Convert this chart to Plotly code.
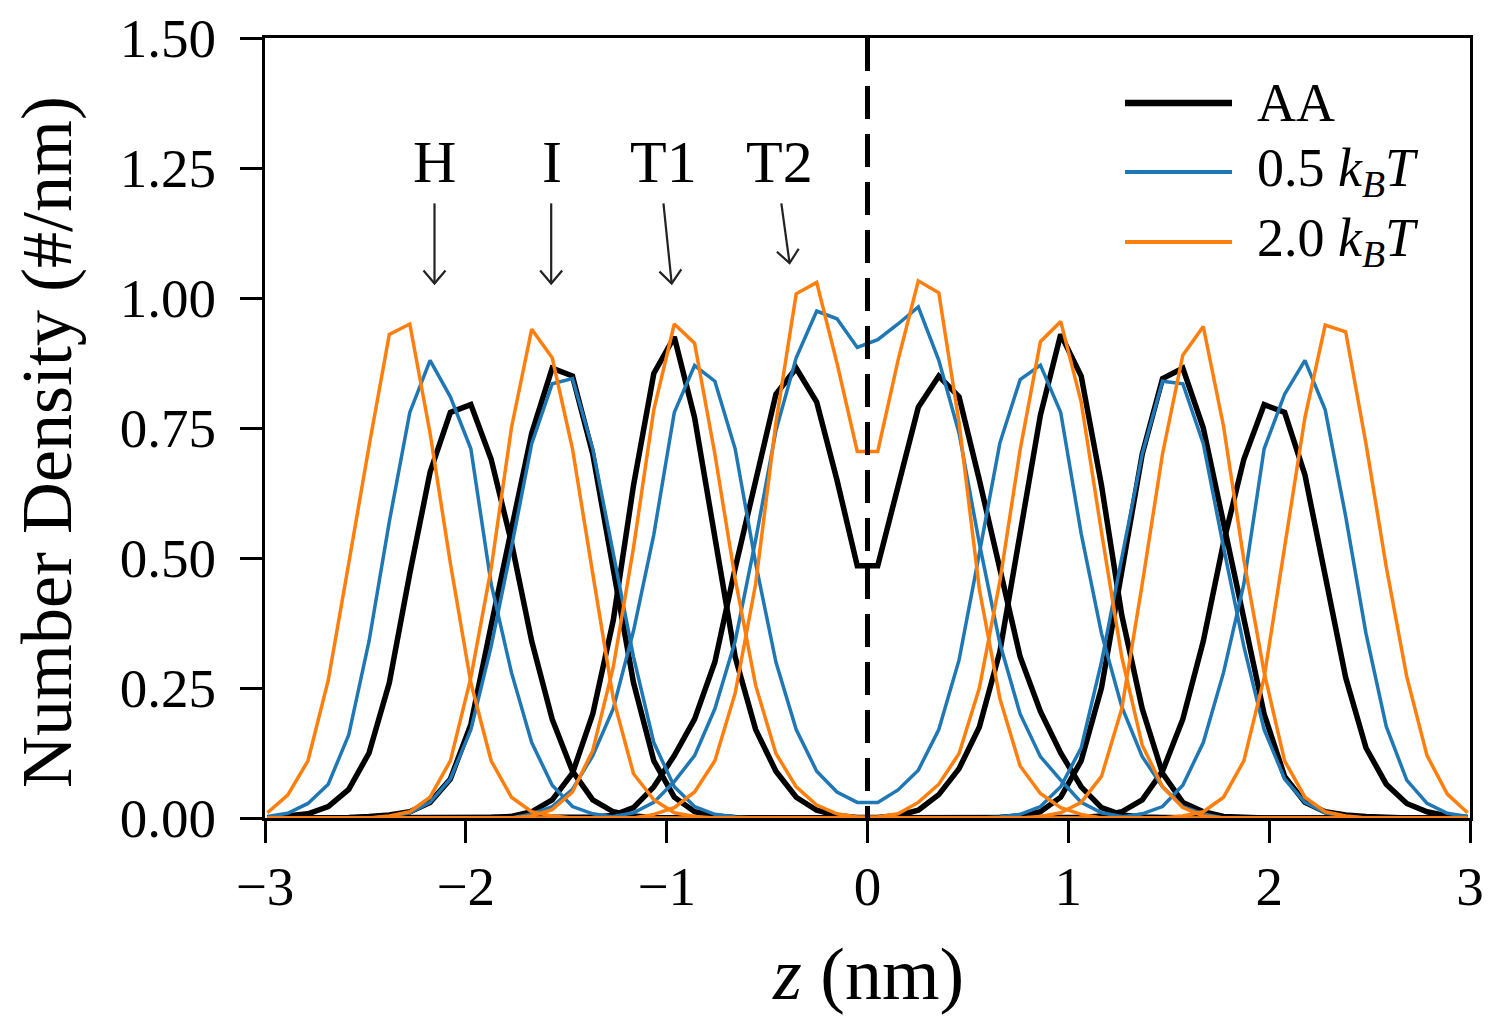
import math
import plotly.graph_objects as go

# ---------------- data ----------------
Z = [-2.988, -2.887, -2.786, -2.685, -2.583, -2.482, -2.381, -2.279, -2.178, -2.077,
     -1.975, -1.874, -1.773, -1.672, -1.570, -1.469, -1.368, -1.266, -1.165, -1.064,
     -0.962, -0.861, -0.760, -0.659, -0.557, -0.456, -0.355, -0.253, -0.152, -0.051,
     0.051, 0.152, 0.253, 0.355, 0.456, 0.557, 0.659, 0.760, 0.861, 0.962,
     1.064, 1.165, 1.266, 1.368, 1.469, 1.570, 1.672, 1.773, 1.874, 1.975,
     2.077, 2.178, 2.279, 2.381, 2.482, 2.583, 2.685, 2.786, 2.887, 2.988]

# AA
AA_H = [0.0, 0.003, 0.008, 0.022, 0.055, 0.125, 0.26, 0.47, 0.665, 0.78,
        0.795, 0.69, 0.53, 0.34, 0.19, 0.09, 0.035, 0.012, 0.004, 0.001,
        0, 0, 0, 0, 0, 0, 0, 0, 0, 0,
        0, 0, 0, 0, 0, 0, 0, 0, 0, 0,
        0.001, 0.004, 0.012, 0.035, 0.09, 0.19, 0.34, 0.53, 0.69, 0.795,
        0.78, 0.66, 0.465, 0.27, 0.135, 0.065, 0.028, 0.012, 0.004, 0.001]
AA_I = [0, 0, 0, 0, 0.001, 0.003, 0.006, 0.012, 0.03, 0.075,
        0.18, 0.37, 0.56, 0.74, 0.865, 0.85, 0.70, 0.48, 0.26, 0.11,
        0.04, 0.012, 0.004, 0.001, 0, 0, 0, 0, 0, 0,
        0, 0, 0, 0, 0, 0, 0.001, 0.004, 0.012, 0.04,
        0.11, 0.25, 0.47, 0.70, 0.845, 0.865, 0.75, 0.57, 0.38, 0.20,
        0.08, 0.03, 0.012, 0.006, 0.003, 0.001, 0, 0, 0, 0]
AA_T1 = [0, 0, 0, 0, 0, 0, 0, 0, 0, 0,
         0, 0.001, 0.003, 0.012, 0.035, 0.086, 0.20, 0.38, 0.64, 0.855,
         0.925, 0.77, 0.54, 0.31, 0.17, 0.09, 0.04, 0.015, 0.005, 0.001,
         0.001, 0.005, 0.015, 0.045, 0.095, 0.175, 0.32, 0.545, 0.775, 0.93,
         0.85, 0.64, 0.39, 0.21, 0.086, 0.03, 0.012, 0.003, 0.001, 0,
         0, 0, 0, 0, 0, 0, 0, 0, 0, 0]
AA_T2 = [0, 0, 0, 0, 0, 0, 0, 0, 0, 0,
         0, 0, 0, 0, 0, 0.001, 0.002, 0.005, 0.02, 0.06,
         0.12, 0.19, 0.30, 0.48, 0.645, 0.815, 0.865, 0.80, 0.65, 0.485,
         0.485, 0.64, 0.79, 0.85, 0.81, 0.65, 0.48, 0.31, 0.205, 0.125,
         0.06, 0.02, 0.006, 0.002, 0.001, 0, 0, 0, 0, 0,
         0, 0, 0, 0, 0, 0, 0, 0, 0, 0]

# 0.5 kBT
B05_H = [0.003, 0.009, 0.028, 0.065, 0.16, 0.34, 0.57, 0.78, 0.88, 0.81,
         0.71, 0.45, 0.28, 0.145, 0.063, 0.022, 0.008, 0.002, 0, 0,
         0, 0, 0, 0, 0, 0, 0, 0, 0, 0,
         0, 0, 0, 0, 0, 0, 0, 0, 0, 0,
         0, 0, 0.002, 0.008, 0.022, 0.063, 0.145, 0.28, 0.45, 0.71,
         0.815, 0.88, 0.785, 0.58, 0.355, 0.176, 0.073, 0.028, 0.009, 0.003]
B05_I = [0, 0, 0, 0, 0, 0, 0.003, 0.01, 0.03, 0.075,
         0.17, 0.33, 0.52, 0.72, 0.835, 0.845, 0.71, 0.51, 0.31, 0.145,
         0.06, 0.022, 0.007, 0.002, 0, 0, 0, 0, 0, 0,
         0, 0, 0, 0, 0, 0, 0.002, 0.007, 0.022, 0.06,
         0.135, 0.30, 0.50, 0.70, 0.84, 0.835, 0.72, 0.52, 0.33, 0.17,
         0.075, 0.03, 0.01, 0.003, 0, 0, 0, 0, 0, 0]
B05_T1 = [0, 0, 0, 0, 0, 0, 0, 0, 0, 0,
          0, 0, 0, 0.008, 0.022, 0.055, 0.12, 0.21, 0.36, 0.545,
          0.78, 0.87, 0.84, 0.71, 0.49, 0.30, 0.17, 0.09, 0.05, 0.03,
          0.03, 0.054, 0.092, 0.17, 0.304, 0.509, 0.721, 0.843, 0.871, 0.78,
          0.547, 0.355, 0.214, 0.118, 0.06, 0.022, 0.008, 0, 0, 0,
          0, 0, 0, 0, 0, 0, 0, 0, 0, 0]
B05_T2 = [0, 0, 0, 0, 0, 0, 0, 0, 0, 0,
          0, 0, 0, 0, 0, 0, 0, 0.003, 0.01, 0.03,
          0.07, 0.12, 0.21, 0.34, 0.535, 0.745, 0.885, 0.975, 0.96, 0.905,
          0.92, 0.95, 0.983, 0.88, 0.74, 0.528, 0.336, 0.20, 0.118, 0.073,
          0.03, 0.01, 0.003, 0, 0, 0, 0, 0, 0, 0,
          0, 0, 0, 0, 0, 0, 0, 0, 0, 0]

# 2.0 kBT
B20_H = [0.01, 0.044, 0.11, 0.265, 0.49, 0.715, 0.93, 0.95, 0.74, 0.49,
         0.26, 0.11, 0.04, 0.012, 0.004, 0, 0, 0, 0, 0,
         0, 0, 0, 0, 0, 0, 0, 0, 0, 0,
         0, 0, 0, 0, 0, 0, 0, 0, 0, 0,
         0, 0, 0, 0, 0, 0.004, 0.012, 0.04, 0.11, 0.27,
         0.52, 0.77, 0.948, 0.935, 0.72, 0.483, 0.272, 0.12, 0.046, 0.01]
B20_I = [0, 0, 0, 0, 0, 0, 0.004, 0.012, 0.04, 0.11,
         0.27, 0.48, 0.75, 0.94, 0.885, 0.71, 0.47, 0.23, 0.085, 0.035,
         0.01, 0.003, 0, 0, 0, 0, 0, 0, 0, 0,
         0, 0, 0, 0, 0, 0, 0, 0, 0.003, 0.01,
         0.03, 0.08, 0.21, 0.45, 0.70, 0.89, 0.945, 0.753, 0.496, 0.28,
         0.11, 0.04, 0.012, 0.004, 0, 0, 0, 0, 0, 0]
B20_T1 = [0, 0, 0, 0, 0, 0, 0, 0, 0, 0,
          0, 0, 0, 0.004, 0.016, 0.05, 0.13, 0.29, 0.52, 0.785,
          0.95, 0.913, 0.70, 0.46, 0.255, 0.124, 0.06, 0.025, 0.008, 0.002,
          0.002, 0.008, 0.03, 0.065, 0.124, 0.25, 0.455, 0.708, 0.916, 0.955,
          0.80, 0.55, 0.31, 0.14, 0.06, 0.02, 0.004, 0, 0, 0,
          0, 0, 0, 0, 0, 0, 0, 0, 0, 0]
B20_T2 = [0, 0, 0, 0, 0, 0, 0, 0, 0, 0,
          0, 0, 0, 0, 0, 0, 0, 0, 0, 0.007,
          0.02, 0.05, 0.11, 0.24, 0.45, 0.76, 1.008, 1.03, 0.875, 0.705,
          0.705, 0.88, 1.033, 1.01, 0.76, 0.44, 0.23, 0.10, 0.047, 0.02,
          0.007, 0, 0, 0, 0, 0, 0, 0, 0, 0,
          0, 0, 0, 0, 0, 0, 0, 0, 0, 0]

SERIES_NAMES = ["AA", "0.5 <i>k</i><sub><i>B</i></sub><i>T</i>", "2.0 <i>k</i><sub><i>B</i></sub><i>T</i>"]
BEAD_LABELS = ["H", "I", "T1", "T2"]

# ---------------- styling / layout ----------------
FONT = "Liberation Serif"
COLORS = ["#000000", "#1f77b4", "#ff7f0e"]
WIDTHS = [5.5, 3.5, 3.5]
GROUPS = [[AA_H, AA_I, AA_T1, AA_T2],
          [B05_H, B05_I, B05_T1, B05_T2],
          [B20_H, B20_I, B20_T1, B20_T2]]

OFF = 8                     # page body margin of the html
W, H = 1500 - OFF, 1021 - OFF
ML, MT = 265 - OFF, 38 - OFF
PW, PH = 1205, 780
MR, MB = W - ML - PW, H - MT - PH
XR, YR = (-3, 3), (0, 1.5)
XS = PW / (XR[1] - XR[0])
YS = PH / (YR[1] - YR[0])
PAGE_L, PAGE_B = 265, 818   # plot-area left / bottom in page pixels


def paper_x(px):
    return (px - PAGE_L) / PW


def paper_y(py):
    return (PAGE_B - py) / PH


fig = go.Figure()
for color, width, groups in zip(COLORS, WIDTHS, GROUPS):
    for g in groups:
        fig.add_trace(go.Scatter(x=Z, y=g, mode="lines",
                                 line=dict(color=color, width=width),
                                 showlegend=False, hoverinfo="skip"))

# dashed bilayer center line
fig.add_shape(type="line", xref="x", yref="y", x0=0, x1=0, y0=YR[1], y1=YR[0],
              line=dict(color="black", width=5, dash="33px,15px"), layer="above")

# bead labels with arrows (tail, tip in axis units)
ARROWS = [(-2.156, 1.182, -2.156, 1.028),
          (-1.575, 1.182, -1.575, 1.028),
          (-1.016, 1.182, -0.975, 1.028),
          (-0.429, 1.182, -0.388, 1.067)]
LABEL_X = [-2.156, -1.572, -1.016, -0.438]
LABEL_Y = 1.262


def add_arrow(x0, y0, x1, y1):
    col = "#222222"
    fig.add_shape(type="line", xref="x", yref="y", x0=x0, y0=y0, x1=x1, y1=y1,
                  line=dict(color=col, width=2.2))
    dx, dy = (x1 - x0) * XS, (y1 - y0) * YS
    n = math.hypot(dx, dy)
    ux, uy = dx / n, dy / n
    px, py = -uy, ux
    L, Wd = 13, 11
    lx = x1 + (-L * ux + Wd * px) / XS
    ly = y1 + (-L * uy + Wd * py) / YS
    rx = x1 + (-L * ux - Wd * px) / XS
    ry = y1 + (-L * uy - Wd * py) / YS
    fig.add_shape(type="path", xref="x", yref="y",
                  path=f"M {lx},{ly} L {x1},{y1} L {rx},{ry}",
                  line=dict(color=col, width=2.2))


for (x0, y0, x1, y1), lab, lx in zip(ARROWS, BEAD_LABELS, LABEL_X):
    add_arrow(x0, y0, x1, y1)
    fig.add_annotation(x=lx, y=LABEL_Y, xref="x", yref="y", text=lab,
                       showarrow=False, xanchor="center", yanchor="middle",
                       font=dict(family=FONT, size=60, color="black"))

# manual legend
LEG_X0, LEG_X1, LEG_TX = 1125, 1232, 1255
LEG_Y = [103, 172, 242]
LEG_W = [6.5, 4, 4]
for name, color, width, yy in zip(SERIES_NAMES, COLORS, LEG_W, LEG_Y):
    fig.add_shape(type="line", xref="paper", yref="paper",
                  x0=paper_x(LEG_X0), x1=paper_x(LEG_X1), y0=paper_y(yy), y1=paper_y(yy),
                  line=dict(color=color, width=width))
    fig.add_annotation(x=paper_x(LEG_TX), y=paper_y(yy), xref="paper", yref="paper",
                       text=name, showarrow=False, xanchor="left", yanchor="middle",
                       font=dict(family=FONT, size=54, color="black"))

# axis titles
fig.add_annotation(x=paper_x(47), y=paper_y(442), xref="paper", yref="paper",
                   text="Number Density (#/nm)", textangle=-90, showarrow=False,
                   xanchor="center", yanchor="middle",
                   font=dict(family=FONT, size=72, color="black"))
fig.add_annotation(x=0.5, y=paper_y(974), xref="paper", yref="paper",
                   text="<i>z</i> (nm)", showarrow=False,
                   xanchor="center", yanchor="middle",
                   font=dict(family=FONT, size=74, color="black"))

axis_common = dict(showline=True, linecolor="black", linewidth=3, mirror=True,
                   ticks="outside", ticklen=22, tickwidth=3, tickcolor="black",
                   showgrid=False, zeroline=False,
                   tickfont=dict(family=FONT, size=55, color="black"))

fig.update_xaxes(range=list(XR), tickmode="array", tickvals=[-3, -2, -1, 0, 1, 2, 3],
                 ticklabelstandoff=-4, **axis_common)
fig.update_yaxes(range=list(YR), tickmode="array",
                 tickvals=[0, 0.25, 0.5, 0.75, 1.0, 1.25, 1.5], tickformat=".2f",
                 ticklabelstandoff=13, **axis_common)

fig.update_layout(width=W, height=H, plot_bgcolor="white", paper_bgcolor="white",
                  margin=dict(l=ML, r=MR, t=MT, b=MB, autoexpand=False),
                  showlegend=False)

fig.write_html("out.html")
